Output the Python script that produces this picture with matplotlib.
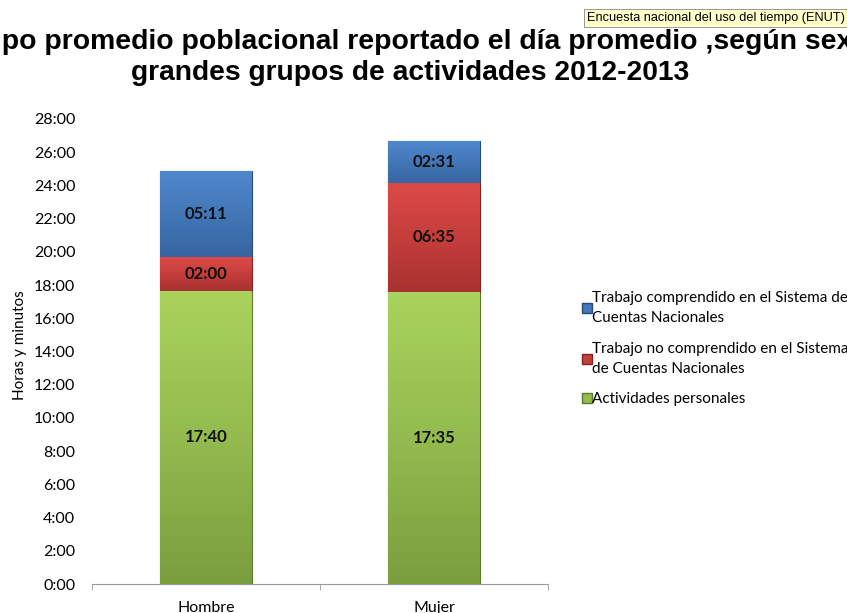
import numpy as np
import matplotlib
matplotlib.use("Agg")
import matplotlib.pyplot as plt
from matplotlib.colors import LinearSegmentedColormap
from matplotlib.patches import Patch

# data (hh:mm)
categories = ["Hombre", "Mujer"]
personales = ["17:40", "17:35"]
no_scn = ["02:00", "06:35"]
scn = ["05:11", "02:31"]
series_names = ["Actividades personales",
                "Trabajo no comprendido en el Sistema\nde Cuentas Nacionales",
                "Trabajo comprendido en el Sistema de\nCuentas Nacionales"]
yticks_h = list(range(0, 29, 2))
title1 = "Tiempo promedio poblacional reportado el día promedio ,según sexo y"
title2 = "grandes grupos de actividades 2012-2013"


def to_hours(s):
    h, m = s.split(":")
    return int(h) + int(m) / 60.0


plt.rcParams['font.family'] = ['Lato', 'DejaVu Sans']

fig = plt.figure(figsize=(8.47, 6.13), dpi=100)
ax = fig.add_axes([92 / 847, 29 / 613, 456 / 847, 465 / 613])

# (light, mid, dark) per series
colors = [("#a9d35c", "#93bb4f", "#7a9e3e"),
          ("#dc4a48", "#c53e3c", "#a83230"),
          ("#4f88cc", "#4377b8", "#3765a0")]
edges = ["#5c7a2c", "#7f2422", "#27487a"]

x = np.arange(len(categories))
width = 0.4
bottom = np.zeros(len(categories))
handles = []
for vals, (c1, c2, c3), ec, name in zip([personales, no_scn, scn], colors, edges, series_names):
    h = np.array([to_hours(v) for v in vals])
    bars = ax.bar(x, h, width, bottom=bottom, color=c2, edgecolor=ec, linewidth=0.8, zorder=2)
    cmap = LinearSegmentedColormap.from_list("g", [c3, c2, c1])
    for rect, v, lab in zip(bars, h, vals):
        x0, y0 = rect.get_x(), rect.get_y()
        grad = np.linspace(0, 1, 100).reshape(-1, 1)
        im = ax.imshow(grad, cmap=cmap, origin="lower", aspect="auto",
                       extent=(x0, x0 + rect.get_width(), y0, y0 + v), zorder=2.5)
        im.set_clip_path(rect)
        ax.text(x0 + rect.get_width() / 2, y0 + v / 2, lab, ha="center", va="center",
                fontsize=12, fontweight="bold", color="#111111", zorder=4)
    handles.append(Patch(facecolor=c2, edgecolor=ec, label=name))
    bottom += h

ax.set_xlim(-0.5, 1.5)
ax.set_ylim(0, 28)
ax.set_yticks(yticks_h)
ax.set_yticklabels(["%d:00" % t for t in yticks_h], fontsize=11.5)
ax.tick_params(axis="y", length=0, pad=12)
ax.set_xticks(x)
ax.set_xticklabels(categories, fontsize=11.5)
ax.set_xticks([-0.5, 0.5, 1.5], minor=True)
ax.tick_params(axis="x", which="major", length=0, pad=12)
ax.tick_params(axis="x", which="minor", length=4, color="#999999")
for s in ["top", "right", "left"]:
    ax.spines[s].set_visible(False)
ax.spines["bottom"].set_color("#999999")

fig.text(20 / 847, 1 - 345 / 613, "Horas y minutos", rotation=90, ha="center", va="center", fontsize=11)

leg = fig.legend(handles=handles[::-1], loc="upper left", bbox_to_anchor=(568 / 847, 1 - 277 / 613),
                 frameon=False, fontsize=11, handlelength=0.65, handleheight=0.65, handletextpad=0.02,
                 labelspacing=1.1)
for t in leg.get_texts():
    t.set_linespacing(1.55)

# title line 1 is cropped by the figure edges: "po promedio ... sex" spans the full width
tfont = dict(family="Liberation Sans", fontweight="bold", va="baseline")
r = fig.canvas.get_renderer()


def text_w(s, size):
    t = fig.text(0, 0, s, fontsize=size, **tfont)
    w = t.get_window_extent(r).width
    t.remove()
    return w


visible = title1[4:-3]
size1 = 20.3 * 850 / text_w(visible, 20.3)
lead = text_w(title1[:4], size1)
fig.text((2 - lead) / 847, 1 - 49 / 613, title1, fontsize=size1, ha="left", **tfont)
fig.text(410 / 847, 1 - 80 / 613, title2, fontsize=20.3, ha="center", **tfont)

fig.text(587 / 847, 1 - 18 / 613, "Encuesta nacional del uso del tiempo (ENUT)",
         family="Liberation Sans", fontsize=9.2, ha="left", va="center",
         bbox=dict(boxstyle="square,pad=0.2", facecolor="#ffffcc", edgecolor="#888888", linewidth=0.6))

fig.savefig("out.png", dpi=100)
